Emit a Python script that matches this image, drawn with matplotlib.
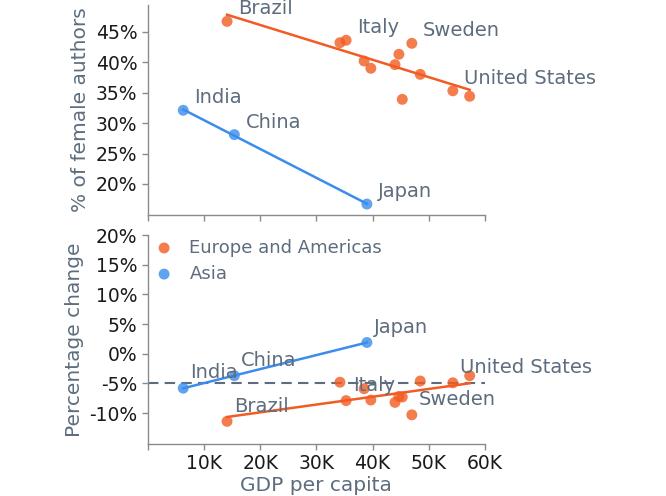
import numpy as np
import matplotlib
matplotlib.use('Agg')
import matplotlib.pyplot as plt
from matplotlib.ticker import FuncFormatter

# GDP per capita (USD) and share of female authors
west_names = ['Brazil', '', 'Italy', '', '', '', '', 'Sweden', '', '', 'United States', '']
west_gdp = [14100, 34200, 35300, 38500, 39700, 44000, 44700, 47000, 48500, 45300, 54300, 57300]
west_share = [46.7, 43.2, 43.6, 40.2, 39.0, 39.6, 41.3, 43.1, 38.0, 33.9, 35.3, 34.4]
west_change = [-11.4, -4.8, -7.9, -5.9, -7.8, -8.2, -7.2, -10.3, -4.6, -7.3, -4.9, -3.7]

asia_names = ['India', 'China', 'Japan']
asia_gdp = [6300, 15400, 39000]
asia_share = [32.1, 28.1, 16.7]
asia_change = [-5.8, -3.7, 1.9]

orange = '#f25c22'
blue = '#3b8ced'
slate = '#5d6d7e'
spine_col = '#8a8a8a'

fig = plt.figure(figsize=(6.66, 4.96), dpi=100)
ax1 = fig.add_axes([0.222, 0.5665, 0.506, 0.4235])
ax2 = fig.add_axes([0.222, 0.105, 0.506, 0.421])


def reg(ax, x, y, col, label=None):
    x = np.array(x, dtype=float)
    y = np.array(y, dtype=float)
    ax.scatter(x, y, s=62, color=col, alpha=0.8, edgecolors='none', label=label, zorder=3)
    k, b = np.polyfit(x, y, 1)
    xs = np.array([x.min(), x.max()])
    ax.plot(xs, k * xs + b, color=col, lw=1.8, zorder=2)


def style(ax):
    for s in ['top', 'right']:
        ax.spines[s].set_visible(False)
    for s in ['left', 'bottom']:
        ax.spines[s].set_color(spine_col)
        ax.spines[s].set_linewidth(1.0)
    ax.tick_params(colors=spine_col, labelcolor='#1a1a1a', labelsize=13.5, length=4, width=1)
    ax.set_xlim(0, 60000)
    ax.yaxis.set_major_formatter(FuncFormatter(lambda v, p: '{:.0f}%'.format(v)))


reg(ax1, west_gdp, west_share, orange)
reg(ax1, asia_gdp, asia_share, blue)
style(ax1)
ax1.set_ylim(14.9, 49.4)
ax1.set_yticks([20, 25, 30, 35, 40, 45])
ax1.set_xticks([0, 10000, 20000, 30000, 40000, 50000, 60000])
ax1.set_xticklabels([])
ax1.set_ylabel('% of female authors', color=slate, fontsize=14.5)
for n, x, y in zip(west_names + asia_names, west_gdp + asia_gdp, west_share + asia_share):
    if n:
        ax1.annotate(n, (x, y), xytext=(8, 9), textcoords='offset points',
                     va='center', ha='left', color=slate, fontsize=14, annotation_clip=False)

reg(ax2, west_gdp, west_change, orange, 'Europe and Americas')
reg(ax2, asia_gdp, asia_change, blue, 'Asia')
style(ax2)
ax2.axhline(-5, color=slate, ls='--', lw=1.5, dashes=(5, 3), zorder=1)
ax2.set_ylim(-15.2, 20)
ax2.set_yticks([-10, -5, 0, 5, 10, 15, 20])
ax2.set_xticks([0, 10000, 20000, 30000, 40000, 50000, 60000])
ax2.set_xticklabels(['', '10K', '20K', '30K', '40K', '50K', '60K'])
ax2.set_ylabel('Percentage change', color=slate, fontsize=14.5)
ax2.set_xlabel('GDP per capita', color=slate, fontsize=14.5, labelpad=2)
for n, x, y in zip(west_names + asia_names, west_gdp + asia_gdp, west_change + asia_change):
    if n:
        ax2.annotate(n, (x, y), xytext=(5, 11), textcoords='offset points',
                     va='center', ha='left', color=slate, fontsize=14, annotation_clip=False)
leg = ax2.legend(loc='upper left', frameon=False, fontsize=13, handletextpad=0.7,
                 borderaxespad=0.0, borderpad=0.2, handlelength=1.4, labelspacing=0.45)
for t in leg.get_texts():
    t.set_color(slate)

fig.savefig('out.png', dpi=100)
